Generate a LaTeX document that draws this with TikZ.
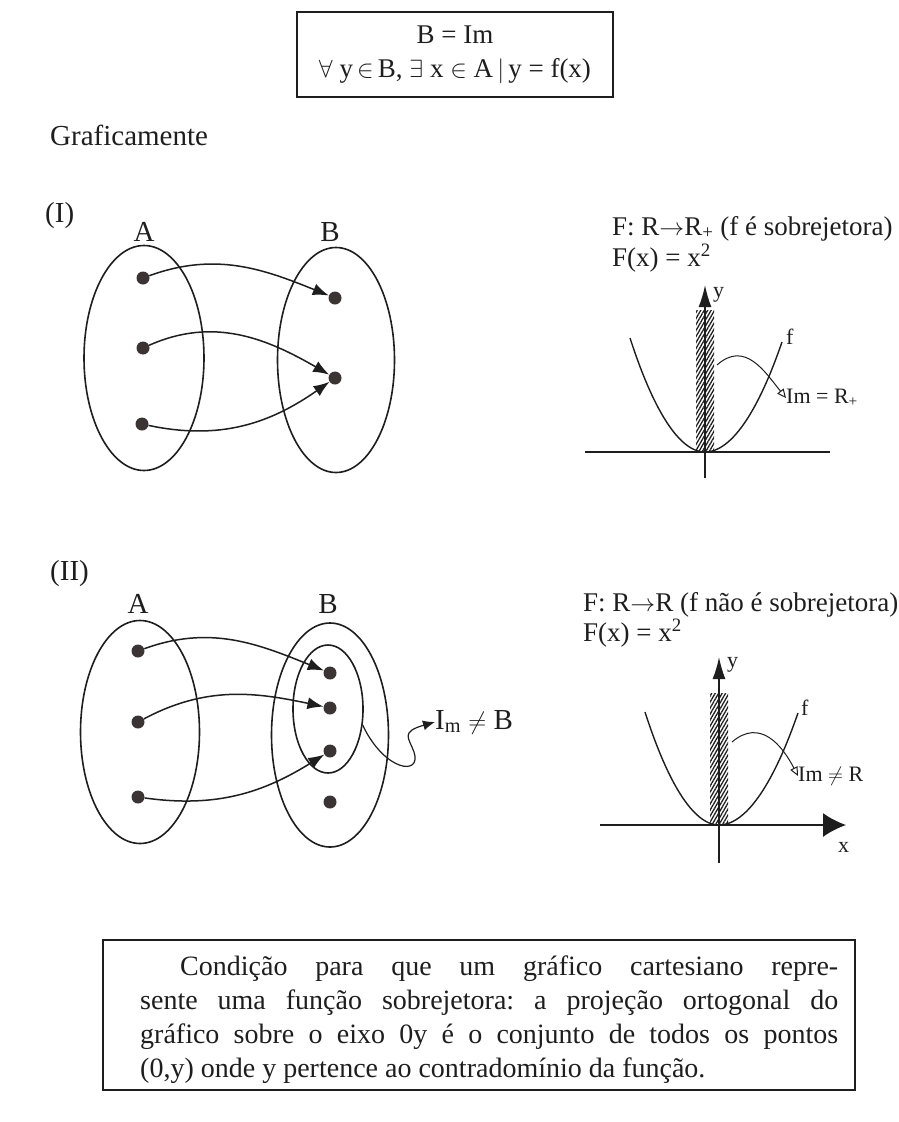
\documentclass[tikz,border=0pt]{standalone}
\usepackage{fontspec}
\setmainfont{Liberation Serif}
\usetikzlibrary{arrows.meta,patterns.meta,shapes.geometric}
\definecolor{ink}{HTML}{1E1E1E}
\definecolor{dotc}{HTML}{3A3434}
\begin{document}
\begin{tikzpicture}[x=1pt,y=-1pt,
  every node/.style={text=ink},
  settype/.style={draw=ink, line width=1.6pt, ellipse, inner sep=0pt},
  dot/.style={circle, fill=dotc, inner sep=0pt, minimum size=13pt},
  maparrow/.style={draw=ink, line width=1.5pt, -{Latex[length=16pt,width=12pt]}},
  axis/.style={draw=ink, line width=1.6pt},
  curve/.style={draw=ink, line width=1.4pt},
  hatch/.style={pattern={Lines[angle=60,distance=3pt,line width=1.3pt]}, pattern color=ink},
  smallarr/.style={draw=ink, line width=1pt, -{Triangle[open,length=9pt,width=8pt]}},
  txt/.style={font=\fontsize{29}{34}\selectfont, inner sep=0pt},
  ftxt/.style={font=\fontsize{27}{32}\selectfont, inner sep=0pt},
  lbl/.style={font=\fontsize{22}{26}\selectfont, inner sep=0pt},
]
\useasboundingbox (0,0) rectangle (898,1122);
\fill[white] (0,0) rectangle (898,1122);

% top box
\node[draw=ink, line width=1.8pt, minimum width=316pt, minimum height=85pt, inner sep=0pt,
      align=center, font=\fontsize{27}{34}\selectfont] (defbox) at (455,54.5)
  {B = Im\\$\forall$ y$\,\in\,$B, $\exists$ x $\in$ A$\,|\,$y = f(x)};

\node[txt, anchor=base west] (graf) at (50,145) {Graficamente};

% ---------------- (I) ----------------
\node[txt, anchor=base west] (lI) at (45,222) {(I)};
\node[txt, anchor=base] (lA1) at (144,241) {A};
\node[txt, anchor=base] (lB1) at (330,241) {B};
\node[settype, minimum width=120pt, minimum height=225pt] (setA1) at (144,358) {};
\node[settype, minimum width=117pt, minimum height=225pt] (setB1) at (336,360) {};
\node[dot] (a11) at (143,278) {};
\node[dot] (a12) at (143,348) {};
\node[dot] (a13) at (142,424) {};
\node[dot] (b11) at (335,298) {};
\node[dot] (b12) at (335,378) {};
\draw[maparrow] (a11) to[out=20,in=158] (b11);
\draw[maparrow] (a12) to[out=24,in=150] (b12);
\draw[maparrow] (a13) to[out=-12,in=-145] (b12);

% graph I
\node[ftxt, anchor=base west] (fI) at (612,235) {F: R$\rightarrow$R\textsubscript{+} (f é sobrejetora)};
\node[ftxt, anchor=base west] (fxI) at (612,266) {F(x) = x\textsuperscript{2}};
\coordinate (oI) at (705,452);
\coordinate (ytopI) at (705,285);
\coordinate (ybotI) at (705,478);
\coordinate (xlI) at (585,452);
\coordinate (xrI) at (830,452);
\fill[hatch] (696,310) rectangle (714,452);
\draw[axis] (xlI) -- (xrI);
\draw[axis, -{Latex[length=22pt,width=13pt]}] (ybotI) -- (ytopI);
\draw[curve] (630,338) parabola bend (oI) (782,342);
\node[lbl, anchor=west] (yI) at (713,295) {y};
\node[lbl, anchor=west] (flI) at (786,337) {f};
\node[lbl, anchor=west] (imI) at (786,398) {Im = R\textsubscript{+}};
\coordinate (sI) at (717,365);
\draw[smallarr] (sI) .. controls (745,340) and (765,372) .. (imI.west);

% ---------------- (II) ----------------
\node[txt, anchor=base west] (lII) at (50,580) {(II)};
\node[txt, anchor=base] (lA2) at (138,613) {A};
\node[txt, anchor=base] (lB2) at (328,613) {B};
\node[settype, minimum width=119pt, minimum height=223pt] (setA2) at (140,732) {};
\node[settype, minimum width=117pt, minimum height=224pt] (setB2) at (330,735) {};
\node[settype, minimum width=70pt, minimum height=128pt] (imB2) at (328,709) {};
\node[dot] (a21) at (138,651) {};
\node[dot] (a22) at (138,722) {};
\node[dot] (a23) at (138,797) {};
\node[dot] (b21) at (330,673) {};
\node[dot] (b22) at (330,708) {};
\node[dot] (b23) at (330,751) {};
\node[dot] (b24) at (330,802) {};
\draw[maparrow] (a21) to[out=20,in=158] (b21);
\draw[maparrow] (a22) to[out=28,in=168] (b22);
\draw[maparrow] (a23) to[out=-8,in=-148] (b23);
\node[txt, anchor=west] (imneq) at (435,722) {I\textsubscript{m} $\neq$ B};
\coordinate (sq) at (imB2.-25);
\draw[draw=ink, line width=1.2pt, -{Latex[length=12pt,width=10pt]}] (sq) .. controls (385,772) and (422,776) .. (414,752) .. controls (409,738) and (400,732) .. (imneq.west);

% graph II
\node[ftxt, anchor=base west] (fII) at (583,611) {F: R$\rightarrow$R (f não é sobrejetora)};
\node[ftxt, anchor=base west] (fxII) at (583,641) {F(x) = x\textsuperscript{2}};
\coordinate (oII) at (719,825);
\coordinate (ytopII) at (719,657);
\coordinate (ybotII) at (719,863);
\coordinate (xlII) at (600,825);
\coordinate (xrII) at (846,825);
\fill[hatch] (710,693) rectangle (728,825);
\draw[axis, -{Latex[length=23pt,width=24pt]}] (xlII) -- (xrII);
\draw[axis, -{Latex[length=22pt,width=13pt]}] (ybotII) -- (ytopII);
\draw[curve] (645,712) parabola bend (oII) (798,713);
\node[lbl, anchor=west] (yII) at (727,665) {y};
\node[lbl, anchor=west] (xII) at (838,847) {x};
\node[lbl, anchor=west] (flII) at (801,708) {f};
\node[lbl, anchor=west] (imII) at (798,776) {Im $\neq$ R};
\coordinate (sII) at (732,742);
\draw[smallarr] (sII) .. controls (760,718) and (782,745) .. (imII.west);

% bottom box
\node[draw=ink, line width=1.8pt, minimum width=752pt, minimum height=150pt, inner sep=0pt] (condbox) at (479,1015) {};
\node[font=\fontsize{28}{34}\selectfont, text width=698pt, align=justify, inner sep=0pt, anchor=north west] (condtxt) at (140,956)
 {\frenchspacing\hspace*{40pt}Condição para que um gráfico cartesiano repre-\linebreak sente uma função sobrejetora: a projeção ortogonal do\linebreak gráfico sobre o eixo 0y é o conjunto de todos os pontos\linebreak (0,y) onde y pertence ao contradomínio da função.};
\end{tikzpicture}
\end{document}
